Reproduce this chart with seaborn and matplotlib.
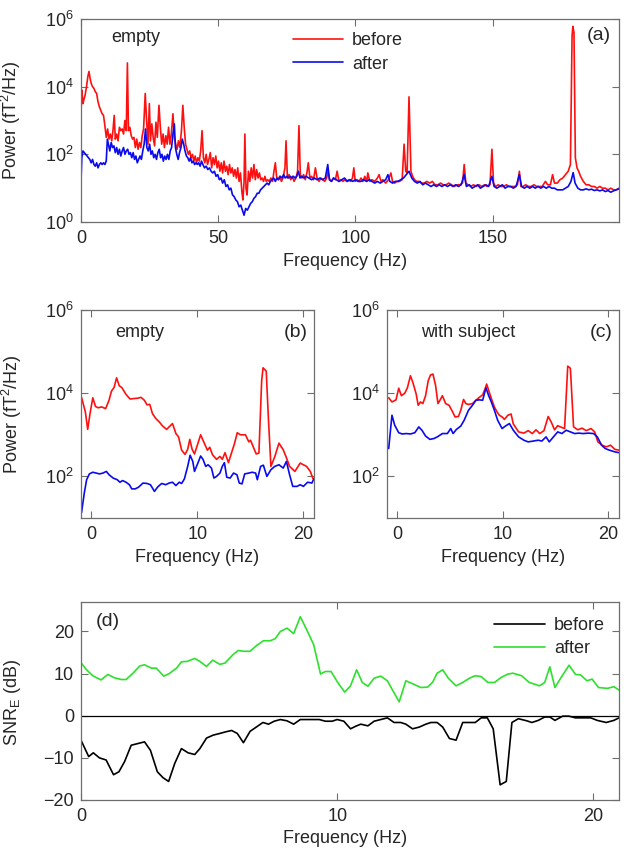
import numpy as np
import pandas as pd
import matplotlib
matplotlib.use("Agg")
import matplotlib.pyplot as plt
import seaborn as sns
from matplotlib.ticker import LogFormatterSciNotation, FixedLocator, NullLocator

# ---------------- data: panel (a) (log10 of power) ----------------
a_red_f = [0.0, 0.3, 0.7, 1.0, 1.5, 2.0, 2.5, 2.9, 3.3, 3.7, 4.2, 4.7, 5.2, 5.7, 6.2, 6.7, 7.2, 7.7, 8.2, 8.7,
           9.2, 9.7, 10.2, 10.7, 11.2, 11.7, 12.1, 12.5, 13.0, 13.5, 14.0, 14.5, 15.0, 15.5, 16.0, 16.5, 16.9, 17.3,
           17.8, 18.3, 18.8, 19.3, 19.8, 20.3, 20.8, 21.3, 21.8, 22.3, 22.8, 23.4, 23.9, 24.4, 24.9, 25.3, 25.8,
           26.3, 26.8, 27.3, 27.8, 28.4, 28.9, 29.4, 29.9, 30.4, 30.9, 31.4, 31.9, 32.4, 32.9, 33.5, 34.0, 34.5,
           35.0, 35.5, 36.0, 36.6, 37.1, 37.6, 38.1, 38.6, 39.1, 39.6, 40.1, 40.6, 41.1, 41.6, 42.1, 42.6, 43.1,
           43.6, 44.1, 44.6, 45.1, 45.6, 46.1, 46.6, 47.1, 47.6, 48.1, 48.6, 49.1, 49.6, 50.1, 50.6, 51.1, 51.6,
           52.1, 52.6, 53.1, 53.6, 54.1, 54.6, 55.1, 55.6, 56.1, 56.6, 57.1, 57.6, 58.1, 58.6, 59.0, 59.4, 59.7,
           60.1, 60.5, 61.0, 61.5, 62.0, 62.5, 63.0, 63.5, 64.0, 64.5, 65.0, 65.5, 66.0, 66.5, 67.0, 67.5, 68.0,
           68.6, 69.2, 69.8, 70.3, 70.8, 71.3, 71.8, 72.4, 73.0, 73.6, 74.3, 74.7, 75.2, 75.8, 76.4, 77.0, 77.6,
           78.3, 78.9, 79.4, 79.9, 80.5, 81.1, 81.7, 82.3, 82.8, 83.4, 84.0, 84.7, 85.4, 86.0, 86.7, 87.4, 88.1,
           88.8, 89.5, 90.0, 90.6, 91.3, 92.0, 92.7, 93.3, 94.0, 94.7, 95.4, 96.1, 96.8, 97.5, 98.2, 98.9, 99.4,
           99.9, 100.6, 101.3, 102.0, 102.7, 103.4, 104.1, 104.5, 105.2, 106, 107, 108, 108.6, 109.3, 110, 111,
           112, 112.9, 113.5, 114.3, 115, 116, 117, 117.7, 118.3, 118.8, 119.5, 120.2, 120.8, 121.5, 122.3, 123,
           124, 125, 126, 127, 128, 129, 130, 131, 132, 133, 134, 135, 136, 137, 138, 139, 139.6, 140.2, 141, 142,
           143, 144, 145, 146, 147, 148, 149, 149.7, 150.3, 151, 152, 153, 154, 155, 156, 157, 158, 159, 159.7,
           160.3, 161, 162, 163, 164, 165, 166, 167, 168, 169.2, 170, 171, 171.8, 172.5, 173.5, 174.5, 175.5,
           176.5, 177.5, 178.3, 178.9, 179.2, 179.6, 180.1, 180.7, 181.3, 182, 183, 184, 185, 186, 187, 188, 189,
           190, 191, 192, 193, 194, 195, 196]
a_red_log = [3.2, 3.9, 3.5, 3.6, 3.75, 4.0, 4.3, 4.45, 4.25, 4.1, 4.0, 3.95, 3.85, 3.8, 3.55, 3.4, 3.3, 3.2, 3.15,
             2.85, 2.5, 2.75, 2.45, 2.6, 2.4, 2.75, 3.15, 2.45, 2.6, 2.4, 2.8, 2.7, 2.75, 2.6, 3.0, 2.7, 4.7, 2.7,
             2.8, 2.55, 2.45, 2.5, 2.2, 2.45, 2.15, 2.35, 2.2, 2.55, 2.75, 3.8, 3.0, 2.3, 3.5, 2.4, 2.9, 2.5, 2.25,
             2.95, 2.5, 3.45, 2.8, 2.3, 2.6, 2.2, 2.55, 2.3, 2.8, 2.3, 2.6, 3.2, 2.5, 2.3, 2.15, 2.4, 2.2, 2.7,
             3.45, 2.8, 2.3, 2.15, 2.0, 2.1, 1.9, 2.0, 1.8, 1.95, 1.75, 1.9, 1.8, 2.1, 2.7, 1.9, 1.75, 2.0, 1.7,
             1.85, 2.05, 1.6, 1.9, 1.7, 1.95, 1.6, 1.8, 1.5, 1.75, 1.45, 1.8, 1.5, 1.65, 1.4, 1.7, 1.45, 1.6, 1.35,
             1.55, 1.3, 1.6, 1.2, 1.45, 0.9, 0.65, 1.2, 2.6, 1.0, 0.8, 1.5, 1.2, 1.6, 1.3, 1.7, 1.25, 1.55, 1.3,
             1.45, 1.25, 1.3, 1.2, 1.35, 1.2, 1.25, 1.2, 1.3, 1.2, 1.5, 1.75, 1.3, 1.25, 1.35, 1.2, 1.3, 1.6, 2.4,
             1.3, 1.4, 1.25, 1.35, 1.2, 1.3, 1.5, 2.85, 1.4, 1.3, 1.4, 1.25, 1.45, 1.75, 1.3, 1.35, 1.25, 1.6, 1.3,
             1.2, 1.3, 1.25, 1.2, 1.3, 1.5, 1.25, 1.2, 1.3, 1.25, 1.5, 1.2, 1.25, 1.2, 1.25, 1.2, 1.25, 1.2, 1.3,
             1.6, 1.2, 1.25, 1.2, 1.3, 1.2, 1.35, 1.2, 1.45, 1.2, 1.25, 1.2, 1.3, 1.4, 1.2, 1.25, 1.15, 1.25, 1.45,
             1.2, 1.15, 1.2, 1.2, 1.25, 2.3, 1.5, 1.45, 3.7, 1.5, 1.35, 1.25, 1.2, 1.2, 1.15, 1.15, 1.2, 1.15, 1.2,
             1.1, 1.1, 1.15, 1.1, 1.1, 1.15, 1.1, 1.05, 1.1, 1.1, 1.15, 1.7, 1.15, 1.1, 1.05, 1.1, 1.05, 1.1, 1.05,
             1.1, 1.05, 1.1, 2.15, 1.15, 1.05, 1.1, 1.05, 1.05, 1.1, 1.05, 1.05, 1.05, 1.1, 1.5, 1.05, 1.05, 1.1,
             1.05, 1.05, 1.1, 1.05, 1.05, 1.05, 1.2, 1.1, 1.1, 1.4, 1.15, 1.15, 1.25, 1.3, 1.4, 1.5, 1.7, 5.5, 5.78,
             5.6, 1.9, 1.6, 1.5, 1.35, 1.2, 1.1, 1.1, 1.05, 1.05, 1.0, 1.05, 1.0, 1.0, 0.95, 1.0, 0.95, 0.95, 1.0]

a_blue_f = [0.0, 0.3, 0.7, 1.2, 1.7, 2.2, 2.7, 3.2, 3.7, 4.2, 4.7, 5.2, 5.7, 6.2, 6.7, 7.2, 7.7, 8.2, 8.7, 9.2,
            9.6, 10.0, 10.5, 11.0, 11.5, 12.0, 12.5, 13.0, 13.5, 14.0, 14.5, 15.0, 15.5, 16.0, 16.5, 17.0, 17.5,
            18.0, 18.5, 19.0, 19.5, 20.0, 20.5, 21.0, 21.5, 22.0, 22.5, 23.0, 23.5, 24.0, 24.5, 25.0, 25.5, 26.0,
            26.5, 27.0, 27.5, 28.0, 28.5, 29.0, 29.5, 30.0, 30.5, 31.0, 31.5, 32.0, 32.5, 33.0, 33.5, 34.0, 34.4,
            34.9, 35.4, 35.9, 36.4, 36.9, 37.4, 37.9, 38.4, 38.9, 39.4, 39.9, 40.4, 40.9, 41.4, 41.9, 42.4, 42.9,
            43.4, 43.9, 44.4, 45.0, 45.6, 46.2, 46.8, 47.4, 48.0, 48.6, 49.2, 49.8, 50.4, 51.0, 51.6, 52.2, 52.8,
            53.4, 54.0, 54.6, 55.2, 55.8, 56.4, 57.0, 57.6, 58.2, 58.8, 59.4, 60.0, 60.6, 61.2, 61.8, 62.4, 63.0,
            63.6, 64.2, 64.8, 65.4, 66.0, 66.6, 67.2, 67.8, 68.4, 69.0, 69.6, 70.2, 70.8, 71.4, 72.0, 72.6, 73.2,
            73.8, 74.4, 75.0, 75.6, 76.2, 76.8, 77.4, 78.0, 78.6, 79.2, 79.8, 80.5, 81.2, 82.0, 83, 84, 85, 86, 87,
            88, 89, 89.9, 90.5, 91.2, 92, 93, 94, 95, 96, 97, 98, 99, 100, 101, 102, 103, 104, 105, 106, 107, 108,
            109, 110, 111, 111.8, 112.5, 113.5, 114.5, 115.5, 116.5, 117.5, 118.5, 119.5, 120.5, 121.5, 122.5,
            123.5, 124.5, 125.5, 126.5, 127.5, 128.5, 129.5, 130.5, 131.5, 132.5, 133.5, 134.5, 135.5, 136.5,
            137.5, 138.5, 139.6, 140.4, 141.5, 142.5, 143.5, 144.5, 145.5, 146.5, 147.5, 148.5, 149.7, 150.5,
            151.5, 152.5, 153.5, 154.5, 155.5, 156.5, 157.5, 158.5, 159.7, 160.5, 161.5, 162.5, 163.5, 164.5,
            165.5, 166.5, 167.5, 168.5, 169.5, 170.5, 171.5, 172.5, 173.5, 174.5, 175.5, 176.5, 177.5, 178.5,
            179.3, 180, 181, 182, 183, 184, 185, 186, 187, 188, 189, 190, 191, 192, 193, 194, 195, 196]
a_blue_log = [1.2, 1.9, 2.1, 2.05, 2.0, 1.95, 1.9, 1.85, 1.75, 1.85, 1.7, 1.65, 1.75, 1.6, 1.7, 1.75, 1.7, 1.75,
              1.7, 1.8, 2.45, 2.3, 2.1, 2.35, 2.2, 2.25, 2.05, 2.2, 2.0, 2.15, 1.95, 2.1, 2.2, 2.0, 2.1, 2.15, 2.0,
              2.05, 1.9, 2.05, 1.85, 1.95, 1.75, 1.85, 1.95, 1.85, 2.1, 2.3, 2.75, 2.2, 2.1, 2.3, 2.0, 2.1, 1.9,
              2.0, 1.85, 2.05, 2.15, 1.9, 2.0, 1.8, 1.95, 1.85, 2.0, 1.85, 2.1, 2.2, 2.6, 2.9, 2.2, 2.0, 1.85, 2.05,
              2.2, 2.45, 2.3, 2.1, 1.95, 1.9, 1.8, 1.9, 1.75, 1.8, 1.7, 1.75, 1.7, 1.75, 1.65, 1.8, 1.7, 1.6, 1.65,
              1.55, 1.6, 1.5, 1.45, 1.5, 1.35, 1.4, 1.25, 1.3, 1.15, 1.25, 1.05, 1.1, 0.95, 1.0, 0.8, 0.75, 0.65,
              0.6, 0.45, 0.5, 0.35, 0.2, 0.4, 0.35, 0.45, 0.55, 0.6, 0.7, 0.75, 0.85, 0.85, 0.95, 1.0, 1.05, 1.1,
              1.15, 1.1, 1.2, 1.25, 1.3, 1.2, 1.3, 1.25, 1.35, 1.3, 1.4, 1.3, 1.35, 1.3, 1.35, 1.3, 1.35, 1.3, 1.35,
              1.5, 1.3, 1.35, 1.3, 1.35, 1.3, 1.25, 1.3, 1.25, 1.3, 1.25, 1.3, 1.7, 1.25, 1.2, 1.3, 1.25, 1.2, 1.25,
              1.3, 1.2, 1.25, 1.2, 1.25, 1.2, 1.2, 1.25, 1.2, 1.25, 1.2, 1.15, 1.2, 1.15, 1.2, 1.25, 1.4, 1.2, 1.15,
              1.2, 1.2, 1.25, 1.3, 1.4, 1.5, 1.3, 1.2, 1.15, 1.2, 1.1, 1.15, 1.1, 1.05, 1.1, 1.05, 1.1, 1.05, 1.1,
              1.05, 1.1, 1.05, 1.1, 1.05, 1.1, 1.4, 1.05, 1.1, 1.0, 1.05, 1.1, 1.0, 1.05, 1.1, 1.05, 1.35, 1.05,
              1.0, 1.05, 1.1, 1.0, 1.05, 1.05, 1.0, 1.05, 1.4, 1.05, 1.0, 1.05, 1.0, 1.05, 1.0, 1.05, 1.0, 1.05,
              1.0, 1.05, 1.0, 1.0, 0.95, 0.95, 0.95, 1.0, 1.05, 1.2, 1.46, 1.15, 1.0, 0.95, 0.95, 0.98, 0.95, 0.97,
              0.93, 0.95, 0.92, 0.95, 0.9, 0.93, 0.88, 0.92, 0.95, 0.98]

# ---------------- data: panel (b) empty room ----------------
b_red_f = [-0.9, -0.54, -0.32, -0.1, 0.16, 0.42, 0.67, 0.99, 1.37, 1.69, 1.92, 2.17, 2.4, 2.65, 2.91, 3.29, 3.67,
           3.99, 4.38, 4.7, 5.02, 5.27, 5.53, 5.78, 6.1, 6.42, 6.74, 7.12, 7.35, 7.67, 7.99, 8.24, 8.53, 8.85, 9.1,
           9.3, 9.52, 9.74, 10.06, 10.32, 10.54, 10.96, 11.18, 11.44, 11.82, 12.14, 12.36, 12.62, 12.94, 13.26,
           13.51, 13.77, 14.06, 14.54, 14.86, 15.02, 15.34, 15.56, 15.81, 16.07, 16.2, 16.5, 16.7, 16.94, 17.3,
           17.7, 18.1, 18.4, 18.7, 19.2, 19.7, 20.3, 20.65, 20.9]
b_red_log = [3.9, 3.55, 3.13, 3.51, 3.89, 3.68, 3.65, 3.67, 3.63, 3.83, 4.05, 4.14, 4.37, 4.18, 4.13, 3.97, 3.86,
             3.87, 3.88, 3.9, 3.83, 3.72, 3.73, 3.51, 3.39, 3.31, 3.21, 3.13, 3.19, 3.27, 3.03, 2.95, 2.63, 2.53,
             2.65, 2.89, 2.65, 2.54, 2.79, 3.0, 2.87, 2.63, 2.7, 2.52, 2.41, 2.48, 2.41, 2.57, 2.33, 2.59, 2.79,
             3.05, 3.0, 3.0, 2.83, 2.87, 2.67, 2.54, 2.56, 4.3, 4.61, 4.53, 3.42, 2.24, 2.47, 2.8, 2.64, 2.45,
             2.24, 2.12, 2.32, 2.24, 2.12, 1.95]
b_blue_f = [-0.9, -0.64, -0.42, -0.16, 0.16, 0.48, 0.8, 1.12, 1.44, 1.69, 2.08, 2.46, 2.72, 2.97, 3.29, 3.61, 3.83,
            4.15, 4.47, 4.89, 5.27, 5.59, 5.97, 6.29, 6.65, 7.03, 7.35, 7.67, 7.99, 8.31, 8.53, 8.79, 9.1, 9.33,
            9.58, 9.74, 10.06, 10.32, 10.54, 10.8, 11.02, 11.34, 11.57, 11.82, 12.14, 12.36, 12.56, 12.78, 13.1,
            13.42, 13.74, 13.96, 14.22, 14.47, 14.86, 15.18, 15.5, 15.66, 15.97, 16.23, 16.56, 16.94, 17.3, 17.7,
            18.1, 18.4, 18.7, 19.0, 19.4, 19.7, 20.0, 20.4, 20.8, 21.0]
b_blue_log = [1.13, 1.6, 1.92, 2.06, 2.1, 2.08, 2.06, 2.08, 2.12, 2.04, 1.96, 1.92, 1.86, 1.9, 1.86, 1.8, 1.7, 1.7,
              1.74, 1.84, 1.83, 1.8, 1.64, 1.75, 1.83, 1.8, 1.84, 1.86, 1.78, 1.86, 1.83, 1.94, 2.24, 2.51, 2.36,
              2.12, 2.32, 2.49, 2.41, 2.24, 2.28, 2.2, 1.96, 2.0, 2.08, 2.24, 2.33, 1.98, 1.96, 2.08, 2.04, 1.84,
              1.82, 2.06, 2.08, 2.1, 2.08, 1.92, 2.24, 2.27, 2.0, 2.16, 2.24, 2.28, 2.2, 2.36, 2.04, 1.76, 1.76,
              1.8, 1.76, 1.86, 1.84, 1.95]

# ---------------- data: panel (c) with subject ----------------
c_red_f = [-0.79, -0.48, -0.1, 0.16, 0.41, 0.73, 0.98, 1.27, 1.52, 1.81, 2.0, 2.22, 2.44, 2.7, 2.95, 3.17, 3.4,
           3.65, 3.87, 4.06, 4.29, 4.6, 4.92, 5.24, 5.49, 5.81, 6.03, 6.29, 6.51, 6.76, 7.14, 7.46, 7.78, 8.1,
           8.32, 8.48, 8.73, 8.98, 9.21, 9.46, 9.68, 9.94, 10.16, 10.48, 10.79, 11.0, 11.5, 12.0, 12.4, 12.8,
           13.15, 13.5, 13.9, 14.3, 14.6, 14.9, 15.2, 15.45, 15.85, 16.15, 16.4, 16.7, 17.1, 17.5, 17.9, 18.35,
           18.7, 19.0, 19.4, 19.8, 20.2, 20.6, 21.0]
c_red_log = [3.89, 3.79, 3.84, 4.12, 3.94, 4.0, 4.13, 4.42, 4.24, 3.98, 3.71, 3.79, 3.75, 3.94, 4.3, 4.44, 4.46,
             4.18, 3.75, 3.83, 3.94, 3.75, 3.71, 3.56, 3.43, 3.44, 3.59, 3.85, 3.75, 3.73, 3.75, 3.83, 3.9, 3.96,
             4.1, 4.22, 4.02, 3.83, 3.67, 3.55, 3.47, 3.43, 3.37, 3.47, 3.5, 3.26, 3.07, 3.04, 3.1, 3.03, 3.12,
             3.03, 3.1, 3.44, 3.3, 3.12, 3.22, 3.19, 3.15, 4.65, 4.6, 3.19, 3.12, 3.16, 3.1, 3.15, 3.07, 2.83,
             2.75, 2.71, 2.75, 2.65, 2.63]
c_blue_f = [-0.79, -0.48, -0.22, 0.16, 0.48, 0.86, 1.27, 1.68, 2.06, 2.38, 2.7, 3.11, 3.49, 3.81, 4.29, 4.76, 5.08,
            5.3, 5.62, 6.03, 6.35, 6.76, 7.14, 7.46, 7.78, 8.1, 8.41, 8.67, 8.92, 9.21, 9.52, 9.94, 10.25, 10.63,
            11.0, 11.5, 12.0, 12.4, 12.9, 13.35, 13.7, 14.1, 14.4, 14.8, 15.2, 15.6, 16.0, 16.4, 16.8, 17.2, 17.6,
            18.1, 18.6, 18.95, 19.35, 19.7, 20.1, 20.6, 21.0]
c_blue_log = [2.67, 3.47, 3.23, 3.05, 3.02, 3.03, 3.02, 3.05, 3.19, 3.1, 2.97, 2.89, 2.91, 2.95, 3.03, 3.03, 3.15,
              3.03, 3.13, 3.21, 3.35, 3.59, 3.71, 3.83, 3.84, 3.83, 4.13, 3.94, 3.79, 3.59, 3.35, 3.15, 3.21, 3.27,
              3.11, 2.95, 2.87, 2.83, 2.85, 2.87, 2.85, 2.95, 2.83, 2.95, 3.07, 3.03, 3.11, 3.07, 3.03, 3.04, 3.03,
              3.04, 3.03, 2.95, 2.75, 2.67, 2.63, 2.59, 2.57]

# ---------------- data: panel (d) SNR_E (dB) ----------------
d_after_f = [0.0, 0.2, 0.46, 0.78, 1.05, 1.31, 1.57, 1.76, 2.03, 2.29, 2.48, 2.75, 2.94, 3.23, 3.44, 3.73, 3.92,
             4.14, 4.44, 4.64, 4.9, 5.14, 5.42, 5.62, 5.95, 6.14, 6.34, 6.6, 6.86, 7.12, 7.39, 7.58, 7.78, 8.04,
             8.3, 8.56, 8.82, 9.08, 9.35, 9.54, 9.76, 10.0, 10.29, 10.52, 10.76, 10.98, 11.2, 11.44, 11.7, 11.96,
             12.16, 12.42, 12.68, 12.94, 13.27, 13.53, 13.73, 13.9, 14.12, 14.34, 14.64, 14.9, 15.16, 15.39, 15.62,
             15.88, 16.14, 16.4, 16.67, 16.86, 17.2, 17.5, 17.9, 18.1, 18.3, 18.5, 18.7, 19.05, 19.3, 19.5, 19.75,
             19.95, 20.2, 20.55, 20.8, 21.0]
d_after = [12.6, 11.0, 9.5, 8.5, 9.8, 9.0, 8.6, 8.6, 10.1, 11.8, 12.1, 11.3, 11.3, 9.4, 10.0, 11.3, 12.8, 12.9,
           13.6, 12.9, 11.7, 13.2, 12.2, 12.5, 14.6, 15.5, 15.3, 15.3, 16.7, 17.8, 17.8, 18.3, 20.0, 20.8, 19.5,
           23.5, 20.3, 16.9, 9.9, 10.5, 10.5, 8.1, 5.6, 7.1, 10.9, 7.9, 7.0, 8.9, 9.4, 8.3, 6.1, 3.3, 8.3, 7.6,
           6.7, 6.8, 8.0, 10.1, 10.9, 8.9, 7.1, 7.9, 8.9, 9.5, 9.3, 7.9, 7.9, 9.1, 9.9, 10.1, 9.5, 7.9, 7.1, 7.9,
           11.6, 6.7, 8.7, 12.0, 9.8, 9.7, 8.3, 8.7, 6.7, 6.5, 6.9, 6.1]
d_before_f = [0.0, 0.3, 0.48, 0.72, 0.98, 1.27, 1.48, 1.7, 1.96, 2.22, 2.48, 2.71, 2.98, 3.2, 3.42, 3.66, 3.92,
              4.18, 4.44, 4.64, 4.9, 5.16, 5.42, 5.66, 5.88, 6.1, 6.34, 6.6, 6.84, 7.1, 7.32, 7.54, 7.78, 8.04,
              8.3, 8.56, 8.82, 9.08, 9.3, 9.54, 9.8, 10.0, 10.26, 10.52, 10.72, 10.92, 11.2, 11.44, 11.7, 11.96,
              12.22, 12.48, 12.68, 12.94, 13.2, 13.46, 13.66, 13.9, 14.12, 14.38, 14.64, 14.9, 15.16, 15.39, 15.62,
              15.86, 16.09, 16.36, 16.6, 16.82, 17.07, 17.4, 17.6, 17.85, 18.1, 18.3, 18.5, 18.8, 19.05, 19.3, 19.6,
              19.9, 20.15, 20.5, 20.8, 21.0]
d_before = [-5.8, -9.7, -8.8, -10.0, -10.5, -14.0, -13.3, -10.9, -7.0, -6.6, -6.2, -8.2, -13.3, -14.7, -15.6,
            -11.3, -7.8, -8.8, -9.2, -7.8, -5.3, -4.6, -4.2, -3.8, -3.5, -4.2, -6.4, -3.7, -2.7, -1.6, -2.0, -1.3,
            -0.9, -1.2, -2.0, -0.9, -0.9, -0.9, -0.9, -1.3, -1.3, -0.9, -1.3, -3.1, -2.5, -2.0, -2.4, -1.3, -0.9,
            -0.5, -1.6, -1.6, -2.0, -3.1, -2.7, -2.0, -1.6, -1.6, -2.7, -5.4, -5.8, -1.6, -1.6, -1.6, -0.5, -0.5,
            -3.1, -16.4, -15.6, -1.6, -0.7, -1.2, -1.6, -1.1, -0.3, -0.3, -1.1, -0.1, -0.1, -0.5, -0.5, -0.5,
            -1.1, -1.6, -1.1, -0.5]

RED = "#ff1010"
BLUE = "#0a0aee"
GREEN = "#2ee02e"
FRAME = "#6e6e6e"
FS = 13

sns.set_theme(style="ticks")
plt.rcParams["font.family"] = ["Liberation Sans", "DejaVu Sans"]
plt.rcParams["mathtext.fontset"] = "custom"
plt.rcParams["mathtext.rm"] = "Liberation Sans"
plt.rcParams["mathtext.it"] = "Liberation Sans"
plt.rcParams["mathtext.default"] = "regular"

fig = plt.figure(figsize=(6.33, 8.66), dpi=100)
W, H = 633.0, 866.0


def add_ax(x0, y0, x1, y1):
    return fig.add_axes([x0 / W, 1 - y1 / H, (x1 - x0) / W, (y1 - y0) / H])


ax_a = add_ax(81, 19, 619, 222)
ax_b = add_ax(81, 310, 314, 518)
ax_c = add_ax(387, 310, 619, 518)
ax_d = add_ax(81, 602, 619, 800)


def style(ax):
    for s in ax.spines.values():
        s.set_color(FRAME)
        s.set_linewidth(0.9)
        s.set_visible(True)
    ax.tick_params(direction="in", top=True, right=True, length=5, width=0.8,
                   color=FRAME, labelsize=FS, pad=6)
    ax.tick_params(axis="y", pad=5)
    ax.set_facecolor("white")


def lines(ax, f, v, color, label=None, log=True):
    df = pd.DataFrame({"f": f, "v": (10 ** np.array(v)) if log else np.array(v)})
    sns.lineplot(data=df, x="f", y="v", ax=ax, color=color, lw=1.2, estimator=None,
                 sort=False, label=label, legend=False)


# (a)
lines(ax_a, a_red_f, a_red_log, RED, "before")
lines(ax_a, a_blue_f, a_blue_log, BLUE, "after")
ax_a.set_yscale("log")
ax_a.set_ylim(1, 1e6)
ax_a.set_xlim(0, 196)
ax_a.yaxis.set_major_locator(FixedLocator([1, 1e2, 1e4, 1e6]))
ax_a.yaxis.set_minor_locator(NullLocator())
ax_a.yaxis.set_major_formatter(LogFormatterSciNotation())
ax_a.set_xticks([0, 50, 100, 150])
style(ax_a)
ax_a.set_xlabel("Frequency (Hz)", fontsize=FS)
ax_a.set_ylabel("Power (fT$^2$/Hz)", fontsize=FS)
ax_a.xaxis.set_label_coords(0.49, -0.155)
ax_a.yaxis.set_label_coords(-0.108, 0.5)
ax_a.text(0.056, 0.91, "empty", transform=ax_a.transAxes, fontsize=FS, va="center", ha="left")
ax_a.text(0.985, 0.92, "(a)", transform=ax_a.transAxes, fontsize=FS + 1, va="center", ha="right")
ax_a.legend(loc="upper left", bbox_to_anchor=(0.38, 0.97), frameon=False, fontsize=FS,
            handlelength=2.8, handletextpad=0.5, labelspacing=0.35, borderaxespad=0)

# (b) and (c)
for ax, rf, rv, bf, bv, title, tag in [(ax_b, b_red_f, b_red_log, b_blue_f, b_blue_log, "empty", "(b)"),
                                       (ax_c, c_red_f, c_red_log, c_blue_f, c_blue_log, "with subject", "(c)")]:
    lines(ax, rf, rv, RED)
    lines(ax, bf, bv, BLUE)
    ax.set_yscale("log")
    ax.set_ylim(10, 1e6)
    ax.set_xlim(-0.95, 21)
    ax.yaxis.set_major_locator(FixedLocator([1e2, 1e4, 1e6]))
    ax.yaxis.set_minor_locator(NullLocator())
    ax.yaxis.set_major_formatter(LogFormatterSciNotation())
    ax.set_xticks([0, 10, 20])
    style(ax)
    ax.set_xlabel("Frequency (Hz)", fontsize=FS)
    ax.xaxis.set_label_coords(0.5, -0.15)
    ax.text(0.145, 0.89, title, transform=ax.transAxes, fontsize=FS, va="center", ha="left")
    ax.text(0.974, 0.89, tag, transform=ax.transAxes, fontsize=FS + 1, va="center", ha="right")
ax_b.set_ylabel("Power (fT$^2$/Hz)", fontsize=FS)
ax_b.yaxis.set_label_coords(-0.245, 0.5)
ax_c.set_ylabel("")

# (d)
ax_d.axhline(0, color="black", lw=0.9)
lines(ax_d, d_before_f, d_before, "black", "before", log=False)
lines(ax_d, d_after_f, d_after, GREEN, "after", log=False)
ax_d.set_xlim(0, 21)
ax_d.set_ylim(-20, 27)
ax_d.set_yticks([-20, -10, 0, 10, 20])
ax_d.set_yticklabels(["\u221220", "\u221210", "0", "10", "20"])
ax_d.set_xticks([0, 10, 20])
style(ax_d)
ax_d.set_xlabel("Frequency (Hz)", fontsize=FS)
ax_d.set_ylabel("SNR$_E$ (dB)", fontsize=FS)
ax_d.xaxis.set_label_coords(0.49, -0.15)
ax_d.yaxis.set_label_coords(-0.108, 0.49)
ax_d.text(0.028, 0.90, "(d)", transform=ax_d.transAxes, fontsize=FS + 1, va="center", ha="left")
ax_d.legend(loc="upper left", bbox_to_anchor=(0.755, 0.96), frameon=False, fontsize=FS,
            handlelength=2.8, handletextpad=0.5, labelspacing=0.35, borderaxespad=0)

fig.savefig("out.png", dpi=100, facecolor="white")
